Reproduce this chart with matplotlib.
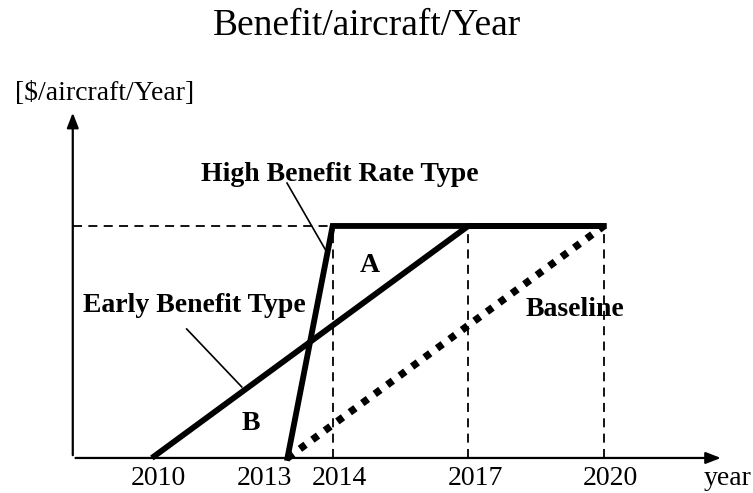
import matplotlib.pyplot as plt

# schematic values (year, normalised benefit/aircraft/year)
years = [2010, 2013, 2014, 2017, 2020]
tick_labels = ['2010', '2013', '2014', '2017', '2020']
high_rate_x = [2013, 2014, 2020]
high_rate_y = [0, 1, 1]
early_x = [2010, 2017, 2020]
early_y = [0, 1, 1]
baseline_x = [2013, 2020]
baseline_y = [0, 1]
plateau = 1.0

plt.rcParams['font.family'] = ['Liberation Serif', 'DejaVu Serif']

fig = plt.figure(figsize=(7.53, 4.93), dpi=100)
ax = fig.add_axes([0, 0, 1, 1])
# map data onto the figure so the sketch sits where the original does
ax.set_xlim(2006.64, 2023.30)
ax.set_ylim(-0.151, 1.974)
ax.axis('off')

x0 = 2008.25   # y axis position
arrow = dict(arrowstyle='-|>,head_length=0.9,head_width=0.35', color='black', lw=1.6)
ax.annotate('', xy=(2022.65, 0), xytext=(x0, 0), arrowprops=arrow)
ax.annotate('', xy=(x0, 1.5), xytext=(x0, 0), arrowprops=arrow)

# dashed guide lines
ax.plot([x0, 2014], [plateau, plateau], color='black', lw=1.3, ls=(0, (5, 3.5)))
for yr in [2014, 2017, 2020]:
    ax.plot([yr, yr], [0, plateau], color='black', lw=1.3, ls=(0, (5, 3.5)))

# curves
ax.plot(early_x, early_y, color='black', lw=4.2, solid_capstyle='butt')
ax.plot(high_rate_x, high_rate_y, color='black', lw=4.2, solid_joinstyle='miter')
ax.plot(baseline_x, baseline_y, color='black', lw=5.3, ls=(0, (0.95, 1.15)),
        dash_capstyle='butt')

# tick labels
for yr, lab in zip(years, tick_labels):
    ha = 'right' if lab == '2013' else 'center'
    ax.text(yr + (0.1 if lab == '2013' else 0.15), -0.09, lab, ha=ha, va='center',
            fontsize=20)
ax.text(2022.2, -0.09, 'year', ha='left', va='center', fontsize=20)

ax.text(2008.96, 1.57, '[$/aircraft/Year]', ha='center', va='center', fontsize=20)
fig.text(0.488, 0.947, 'Benefit/aircraft/Year', ha='center', va='center', fontsize=27)

# annotations
bold = dict(fontsize=20, fontweight='bold')
ax.text(2014.16, 1.22, 'High Benefit Rate Type', ha='center', va='center', **bold)
ax.plot([2012.99, 2013.88], [1.185, 0.884], color='black', lw=1.2)
ax.text(2008.47, 0.657, 'Early Benefit Type', ha='left', va='center', **bold)
ax.plot([2010.77, 2011.99], [0.556, 0.306], color='black', lw=1.2)
ax.text(2014.82, 0.83, 'A', ha='center', va='center', **bold)
ax.text(2012.19, 0.15, 'B', ha='center', va='center', **bold)
ax.text(2019.35, 0.64, 'Baseline', ha='center', va='center', **bold)

fig.savefig('out.png', dpi=100)
